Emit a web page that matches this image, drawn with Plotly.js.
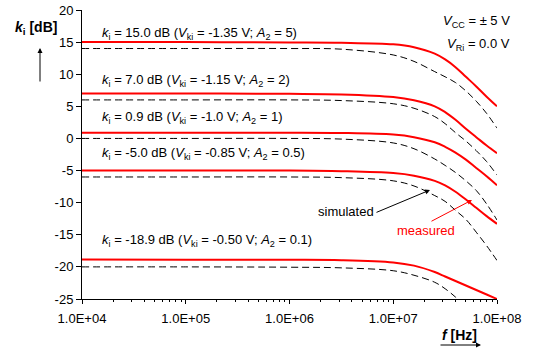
<!DOCTYPE html>
<html>
<head>
<meta charset="utf-8">
<script src="https://cdn.plot.ly/plotly-3.0.1.min.js"></script>
<style>html,body{margin:0;padding:0;background:#fff;}#chart{width:533px;height:349px;}</style>
</head>
<body>
<div id="chart"></div>
<script>
// Frequency grid (Hz)
const freq = [1e4, 1e5, 1e6, 3.162e6, 1e7, 1.585e7, 2.512e7, 3.162e7, 3.981e7, 5.012e7, 6.310e7, 7.943e7, 1e8];

// Measured k_i [dB]
const meas15 = [15.0, 15.0, 14.95, 14.9, 14.65, 14.2, 13.2, 12.3, 11.1, 9.6, 8.1, 6.5, 5.0];
const meas7  = [7.0, 7.0, 6.95, 6.85, 6.45, 5.95, 5.0, 4.1, 2.9, 1.5, 0.2, -1.1, -2.3];
const meas09 = [0.9, 0.9, 0.9, 0.85, 0.6, 0.2, -0.6, -1.3, -2.2, -3.3, -4.6, -5.9, -7.3];
const measM5 = [-5.0, -5.0, -5.0, -5.1, -5.4, -5.8, -6.6, -7.3, -8.3, -9.5, -10.8, -12.1, -13.3];
const measM19 = [-18.85, -18.9, -18.9, -18.95, -19.3, -19.8, -20.8, -21.5, -22.2, -22.9, -23.6, -24.3, -25.0];

// Simulated k_i [dB]
const sim15 = [14.0, 14.0, 14.0, 13.9, 13.0, 12.0, 10.4, 9.6, 8.7, 7.4, 5.8, 3.9, 1.6];
const sim7  = [6.0, 6.0, 6.0, 5.9, 5.4, 4.7, 3.4, 2.3, 0.9, -0.4, -1.9, -3.6, -5.7];
const sim09 = [0.0, 0.0, 0.0, -0.1, -0.7, -1.6, -3.2, -4.2, -5.3, -6.6, -8.1, -10.2, -12.7];
const simM5 = [-6.0, -6.0, -6.0, -6.1, -6.6, -7.4, -8.9, -9.8, -11.2, -12.6, -14.6, -16.7, -19.0];
const simM19 = [-20.0, -20.0, -20.05, -20.15, -20.6, -21.3, -22.4, -23.4, -24.7, -26.2, null, null, null];

// Tick labels
const xTickVals = [1e4, 1e5, 1e6, 1e7, 1e8];
const xTickText = ['1.0E+04', '1.0E+05', '1.0E+06', '1.0E+07', '1.0E+08'];
const yTickVals = [20, 15, 10, 5, 0, -5, -10, -15, -20, -25];
const yTickText = ['20', '15', '10', '5', '0', '-5', '-10', '-15', '-20', '-25'];

// Curve labels
const curveLabels = [
  '<i>k</i><sub>i</sub> = 15.0 dB (<i>V</i><sub>ki</sub> = -1.35 V; <i>A</i><sub>2</sub> = 5)',
  '<i>k</i><sub>i</sub> = 7.0 dB (<i>V</i><sub>ki</sub> = -1.15 V; <i>A</i><sub>2</sub> = 2)',
  '<i>k</i><sub>i</sub> = 0.9 dB (<i>V</i><sub>ki</sub> = -1.0 V; <i>A</i><sub>2</sub> = 1)',
  '<i>k</i><sub>i</sub> = -5.0 dB (<i>V</i><sub>ki</sub> = -0.85 V; <i>A</i><sub>2</sub> = 0.5)',
  '<i>k</i><sub>i</sub> = -18.9 dB (<i>V</i><sub>ki</sub> = -0.50 V; <i>A</i><sub>2</sub> = 0.1)'
];

const FONT = 'Arial, "Liberation Sans", sans-serif';
const measured = [meas15, meas7, meas09, measM5, measM19];
const simulated = [sim15, sim7, sim09, simM5, simM19];

const traces = [];
simulated.forEach(s => traces.push({
  x: freq, y: s, type: 'scatter', mode: 'lines', line: {color: '#000', width: 1, dash: '7px,4px', shape: 'spline'},
  hoverinfo: 'skip', showlegend: false, connectgaps: false
}));
measured.forEach(m => traces.push({
  x: freq, y: m, type: 'scatter', mode: 'lines', line: {color: '#ff0000', width: 2, shape: 'spline'},
  hoverinfo: 'skip', showlegend: false
}));

// minor tick positions
const minorVals = [];
for (let d = 1e4; d < 1e8; d *= 10) for (let k = 2; k <= 9; k++) minorVals.push(k * d);

// pixel -> paper helpers for annotation placement
const L = 82, R = 497, T = 10, B = 299;
const px = v => (v - L) / (R - L);
const py = v => (B - v) / (B - T);

const labelY = [33, 80, 118, 153, 240];
const annotations = curveLabels.map((t, i) => ({
  text: t, xref: 'paper', yref: 'paper', x: px(100), y: py(labelY[i]), xanchor: 'left', yanchor: 'middle',
  showarrow: false, font: {family: FONT, size: 13, color: '#000'}
}));
annotations.push(
  {text: '<b><i>k</i><sub>i</sub> [dB]</b>', xref: 'paper', yref: 'paper', x: px(13), y: py(28), xanchor: 'left', yanchor: 'middle', showarrow: false, font: {family: FONT, size: 14, color: '#000'}},
  {text: '<i>V</i><sub>CC</sub> = ± 5 V', xref: 'paper', yref: 'paper', x: px(512), y: py(22), xanchor: 'right', yanchor: 'middle', showarrow: false, font: {family: FONT, size: 13, color: '#000'}},
  {text: '<i>V</i><sub>Ri</sub> = 0.0 V', xref: 'paper', yref: 'paper', x: px(512), y: py(45), xanchor: 'right', yanchor: 'middle', showarrow: false, font: {family: FONT, size: 13, color: '#000'}},
  {text: 'simulated', xref: 'paper', yref: 'paper', x: px(345.5), y: py(211), xanchor: 'center', yanchor: 'middle', showarrow: false, font: {family: FONT, size: 13, color: '#000'}},
  {text: 'measured', xref: 'paper', yref: 'paper', x: px(426), y: py(231), xanchor: 'center', yanchor: 'middle', showarrow: false, font: {family: FONT, size: 13, color: '#ff0000'}},
  {text: '<b><i>f</i> [Hz]</b>', xref: 'paper', yref: 'paper', x: px(459), y: py(335), xanchor: 'center', yanchor: 'middle', showarrow: false, font: {family: FONT, size: 14, color: '#000'}},
  // arrows
  {text: '', xref: 'paper', yref: 'paper', x: px(430), y: py(190), ax: -55, ay: 23, showarrow: true, arrowhead: 2, arrowsize: 1, arrowwidth: 1, arrowcolor: '#000'},
  {text: '', xref: 'paper', yref: 'paper', x: px(472), y: py(200), ax: -42, ay: 22, showarrow: true, arrowhead: 2, arrowsize: 1, arrowwidth: 1, arrowcolor: '#ff0000'},
  {text: '', xref: 'paper', yref: 'paper', x: px(40), y: py(48), ax: 0, ay: 35, showarrow: true, arrowhead: 2, arrowsize: 1, arrowwidth: 1, arrowcolor: '#000'},
  {text: '', xref: 'paper', yref: 'paper', x: px(481), y: py(345), ax: -42, ay: 0, showarrow: true, arrowhead: 2, arrowsize: 1, arrowwidth: 1, arrowcolor: '#000'}
);

const layout = {
  width: 533, height: 349,
  margin: {l: L, r: 533 - R, t: T, b: 349 - B, pad: 0},
  paper_bgcolor: '#fff', plot_bgcolor: '#fff',
  font: {family: FONT, size: 13, color: '#000'},
  showlegend: false,
  xaxis: {
    type: 'log', range: [4, 8], showgrid: false, zeroline: false,
    showline: true, linecolor: '#000', linewidth: 1,
    tickmode: 'array', tickvals: xTickVals, ticktext: xTickText,
    ticks: 'outside', ticklen: 4, tickcolor: '#000', tickwidth: 1, ticklabelstandoff: 3,
    tickfont: {family: FONT, size: 13, color: '#000'},
    minor: {tickmode: 'array', tickvals: minorVals, ticks: 'outside', ticklen: 2, tickcolor: '#000', tickwidth: 1, showgrid: false}
  },
  yaxis: {
    range: [-25, 20], showgrid: false, zeroline: false,
    showline: true, linecolor: '#000', linewidth: 1,
    tickmode: 'array', tickvals: yTickVals, ticktext: yTickText,
    ticks: 'outside', ticklen: 5, tickcolor: '#000', tickwidth: 1,
    tickfont: {family: FONT, size: 13, color: '#000'}
  },
  annotations: annotations
};

Plotly.newPlot('chart', traces, layout, {staticPlot: true, displayModeBar: false});
</script>
</body>
</html>
